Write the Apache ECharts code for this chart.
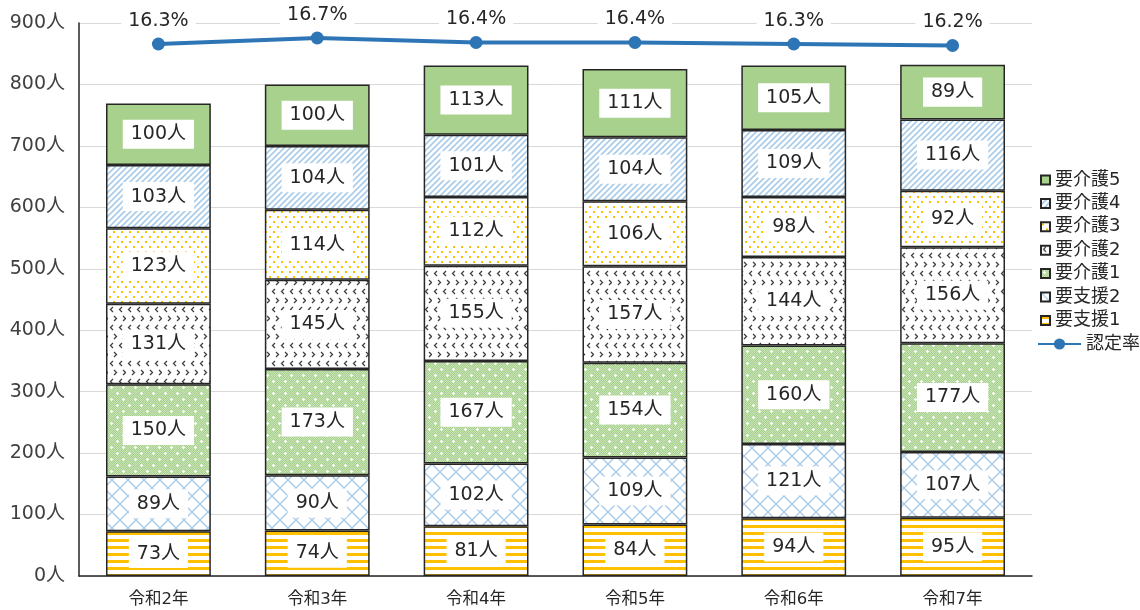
<!DOCTYPE html>
<html>
<head>
<meta charset="utf-8">
<script src="https://cdn.jsdelivr.net/npm/echarts@6/dist/echarts.min.js"></script>
<style>
  html, body { margin: 0; padding: 0; background: #fff; }
  #chart { width: 1140px; height: 610px; }
</style>
</head>
<body>
<div id="chart"></div>
<script>
var years = ['令和2年', '令和3年', '令和4年', '令和5年', '令和6年', '令和7年'];
var shien1 = [73, 74, 81, 84, 94, 95];
var shien2 = [89, 90, 102, 109, 121, 107];
var kaigo1 = [150, 173, 167, 154, 160, 177];
var kaigo2 = [131, 145, 155, 157, 144, 156];
var kaigo3 = [123, 114, 112, 106, 98, 92];
var kaigo4 = [103, 104, 101, 104, 109, 116];
var kaigo5 = [100, 100, 113, 111, 105, 89];
var rate = [16.3, 16.7, 16.4, 16.4, 16.3, 16.2];

// Verdana-like latin + CJK fallback, close to Meiryo
var font = '"DejaVu Sans", "Noto Sans CJK JP", sans-serif';

// small canvas tiles used as bar fills
function tile(w, h, draw) {
    var c = document.createElement('canvas');
    c.width = w;
    c.height = h;
    var ctx = c.getContext('2d');
    ctx.fillStyle = '#fff';
    ctx.fillRect(0, 0, w, h);
    draw(ctx);
    return { image: c, repeat: 'repeat' };
}

var fillStripes = tile(8, 7, function (ctx) {
    ctx.fillStyle = '#FFC000';
    ctx.fillRect(0, 0, 8, 3);
});

var fillLattice = tile(16, 16, function (ctx) {
    ctx.strokeStyle = '#A9CBEA';
    ctx.lineWidth = 1.4;
    ctx.beginPath();
    ctx.moveTo(-1, -1); ctx.lineTo(17, 17);
    ctx.moveTo(17, -1); ctx.lineTo(-1, 17);
    ctx.stroke();
});

var fillGreenDots = tile(12, 12, function (ctx) {
    ctx.fillStyle = '#A9D18E';
    ctx.fillRect(0, 0, 12, 12);
    ctx.fillStyle = '#C9E3B8';
    for (var y = 0; y < 12; y++) {
        for (var x = (y % 2); x < 12; x += 2) ctx.fillRect(x, y, 1, 1);
    }
    ctx.fillStyle = '#fff';
    [[3, 3], [9, 9]].forEach(function (p) {
        ctx.fillRect(p[0] - 1, p[1], 3, 1);
        ctx.fillRect(p[0], p[1] - 1, 1, 3);
    });
});

var fillChevrons = tile(18, 18, function (ctx) {
    ctx.strokeStyle = '#404040';
    ctx.lineWidth = 1.3;
    function lt(x, y) {
        ctx.beginPath();
        ctx.moveTo(x + 3, y); ctx.lineTo(x + 0.5, y + 2.5); ctx.lineTo(x + 3, y + 5);
        ctx.stroke();
    }
    function gt(x, y) {
        ctx.beginPath();
        ctx.moveTo(x, y); ctx.lineTo(x + 2.5, y + 2.5); ctx.lineTo(x, y + 5);
        ctx.stroke();
    }
    lt(2, 1); lt(11, 1);
    gt(6, 10); gt(15, 10);
});

var fillYellowDots = tile(8, 10, function (ctx) {
    ctx.fillStyle = '#FFC000';
    ctx.fillRect(1, 1, 2, 2);
    ctx.fillRect(5, 6, 2, 2);
});

var fillDiagonal = tile(6, 6, function (ctx) {
    ctx.strokeStyle = '#A9CBEA';
    ctx.lineWidth = 1.6;
    ctx.beginPath();
    ctx.moveTo(-2, 8); ctx.lineTo(8, -2);
    ctx.moveTo(-2, 2); ctx.lineTo(2, -2);
    ctx.moveTo(4, 8); ctx.lineTo(8, 4);
    ctx.stroke();
});

var fillSolid = '#A9D18E';

function barSeries(name, data, fill) {
    return {
        name: name,
        type: 'bar',
        stack: 'total',
        barWidth: '66%',
        data: data,
        itemStyle: { color: fill, borderColor: '#262626', borderWidth: 1.5 },
        label: {
            show: true,
            position: 'inside',
            formatter: '{c}人',
            color: '#262626',
            fontFamily: font,
            fontSize: 19,
            backgroundColor: '#fff',
            padding: [5, 8]
        }
    };
}

var chart = echarts.init(document.getElementById('chart'));

chart.setOption({
    animation: false,
    grid: { left: 79, right: 108, top: 23, bottom: 34 },
    legend: [
        {
            orient: 'vertical',
            left: 1035,
            top: 166,
            itemWidth: 9,
            itemHeight: 9,
            itemGap: 5.4,
            icon: 'rect',
            data: ['要介護5', '要介護4', '要介護3', '要介護2', '要介護1', '要支援2', '要支援1'],
            textStyle: { fontFamily: font, fontSize: 18, color: '#262626', lineHeight: 18 }
        },
        {
            orient: 'vertical',
            left: 1032,
            top: 330,
            itemWidth: 43,
            itemHeight: 14,
            data: ['認定率'],
            textStyle: { fontFamily: font, fontSize: 18, color: '#262626', lineHeight: 18 }
        }
    ],
    xAxis: {
        type: 'category',
        data: years,
        axisLine: { lineStyle: { color: '#262626', width: 1.5 } },
        axisTick: { show: false },
        axisLabel: { fontFamily: font, fontSize: 16.5, color: '#262626', margin: 15 }
    },
    yAxis: [
        {
            type: 'value',
            min: 0,
            max: 900,
            interval: 100,
            axisLine: { show: true, lineStyle: { color: '#262626', width: 1.5 } },
            axisTick: { show: false },
            axisLabel: { formatter: '{value}人', fontFamily: font, fontSize: 19, color: '#404040', margin: 14 },
            splitLine: { lineStyle: { color: '#d9d9d9', width: 1 } }
        },
        {
            type: 'value',
            min: -19.2,
            max: 17.7,
            show: false,
            splitLine: { show: false }
        }
    ],
    series: [
        barSeries('要支援1', shien1, fillStripes),
        barSeries('要支援2', shien2, fillLattice),
        barSeries('要介護1', kaigo1, fillGreenDots),
        barSeries('要介護2', kaigo2, fillChevrons),
        barSeries('要介護3', kaigo3, fillYellowDots),
        barSeries('要介護4', kaigo4, fillDiagonal),
        barSeries('要介護5', kaigo5, fillSolid),
        {
            name: '認定率',
            type: 'line',
            yAxisIndex: 1,
            data: rate,
            symbol: 'circle',
            symbolSize: 13,
            z: 10,
            lineStyle: { color: '#2E75B6', width: 4 },
            itemStyle: { color: '#2E75B6' },
            label: {
                show: true,
                position: 'top',
                distance: 7,
                formatter: '{c}%',
                fontFamily: font,
                fontSize: 19,
                color: '#262626',
                backgroundColor: '#fff',
                padding: [0, 7]
            }
        }
    ]
});
</script>
</body>
</html>
